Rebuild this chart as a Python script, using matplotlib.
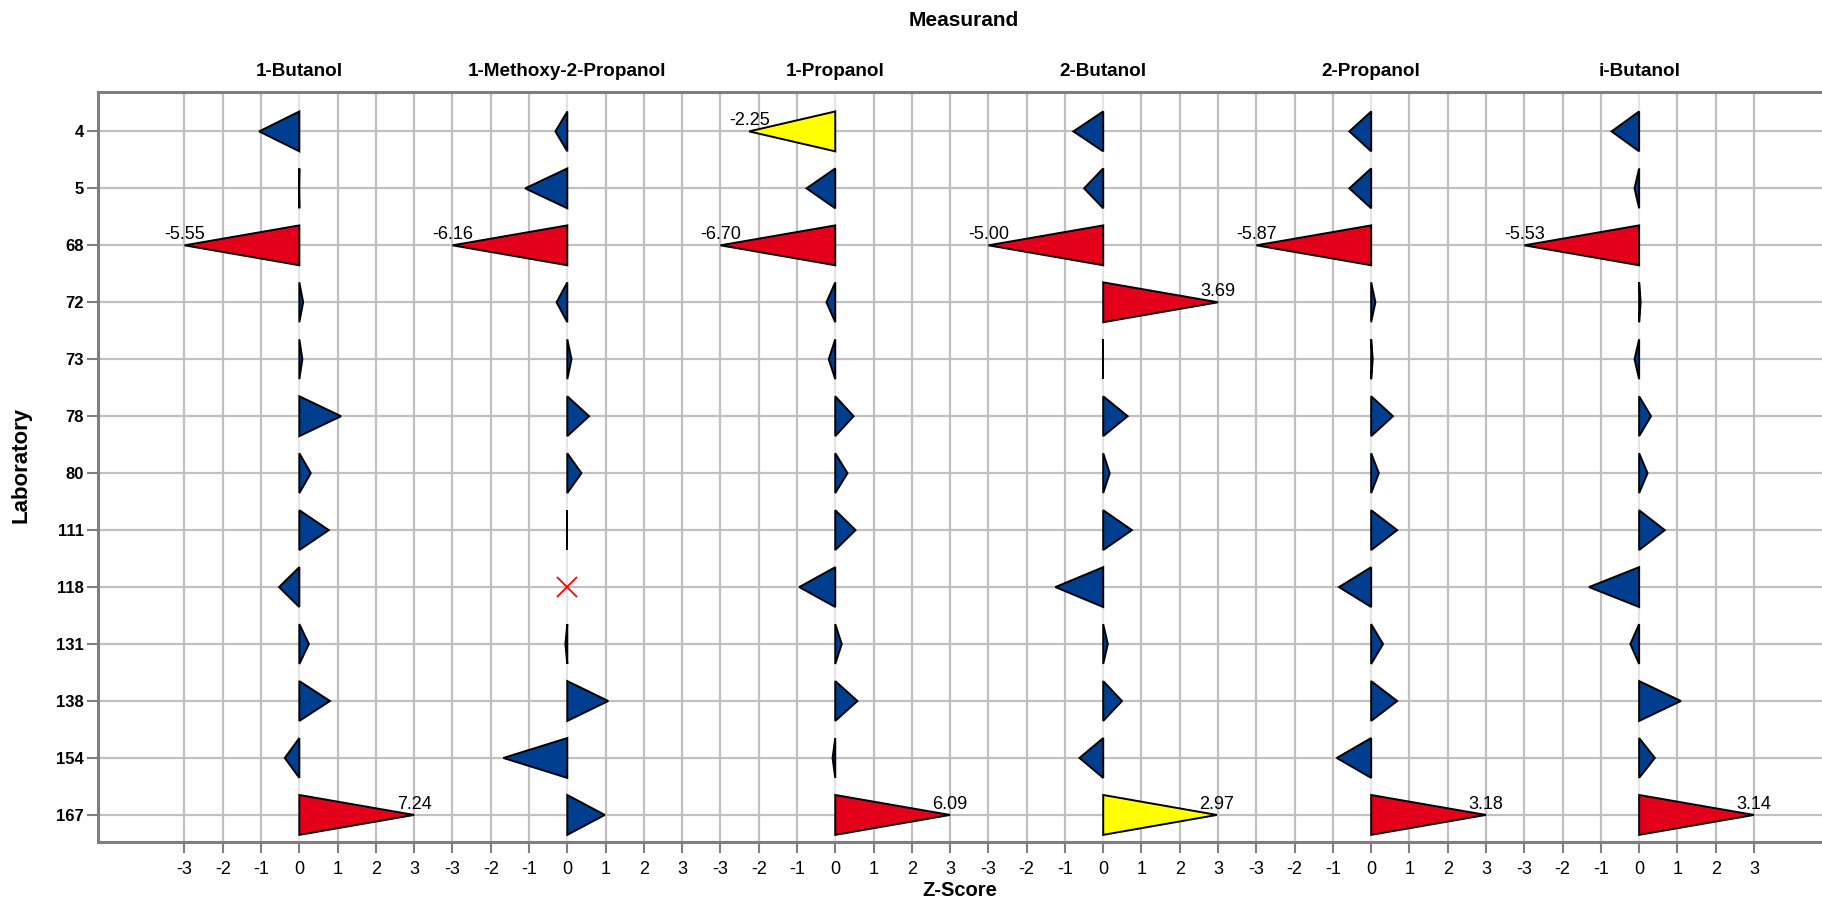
import numpy as np
import matplotlib
matplotlib.use('Agg')
import matplotlib.pyplot as plt
from matplotlib.patches import Polygon
from matplotlib.transforms import blended_transform_factory

plt.rcParams['font.family'] = ['Liberation Sans', 'DejaVu Sans']

# z-scores per laboratory for each measurand (nan = no result)
labs = ['4', '5', '68', '72', '73', '78', '80', '111', '118', '131', '138', '154', '167']
measurands = ['1-Butanol', '1-Methoxy-2-Propanol', '1-Propanol', '2-Butanol', '2-Propanol', 'i-Butanol']

z_1butanol = [-1.05, -0.01, -5.55, 0.10, 0.08, 1.09, 0.30, 0.77, -0.53, 0.25, 0.80, -0.38, 7.24]
z_methoxy = [-0.31, -1.10, -6.16, -0.28, 0.11, 0.57, 0.37, 0.0, np.nan, -0.05, 1.07, -1.67, 0.98]
z_1propanol = [-2.25, -0.75, -6.70, -0.23, -0.17, 0.48, 0.32, 0.53, -0.94, 0.17, 0.58, -0.07, 6.09]
z_2butanol = [-0.78, -0.50, -5.00, 3.69, 0.0, 0.64, 0.17, 0.75, -1.25, 0.12, 0.49, -0.62, 2.97]
z_2propanol = [-0.57, -0.57, -5.87, 0.11, 0.04, 0.57, 0.20, 0.68, -0.84, 0.31, 0.68, -0.90, 3.18]
z_ibutanol = [-0.72, -0.12, -5.53, 0.04, -0.12, 0.31, 0.22, 0.67, -1.31, -0.23, 1.09, 0.41, 3.14]

scores = [z_1butanol, z_methoxy, z_1propanol, z_2butanol, z_2propanol, z_ibutanol]

BLUE = '#003f8f'
YELLOW = '#ffff00'
RED = '#e2001a'
GRID = '#c0c0c0'
SPINE = '#7f7f7f'

fig = plt.figure(figsize=(18.22, 9.01), dpi=100)
# axes runs a little past the right border of the figure
ax = fig.add_axes([97.6 / 1822, 59.3 / 901, 45.54 * 38.28 / 1822, 750.0 / 901])

step = 7          # x offset between measurand panels
half = 0.35       # half height of each triangle (in rows)
ax.set_xlim(-5.27, 40.27)
ax.set_ylim(12.47, -0.697)

xticks = []
xlabels = []
for i in range(len(measurands)):
    for k in range(-3, 4):
        xticks.append(step * i + k)
        xlabels.append(str(k))
ax.set_xticks(xticks)
ax.set_xticklabels(xlabels)
ax.set_yticks(range(len(labs)))
ax.set_yticklabels(labs, fontweight='bold', fontsize=12)

# grid: zero lines of each panel drawn lighter
for x in xticks:
    col = '#e4e4e4' if x % step == 0 else GRID
    ax.axvline(x, color=col, lw=1.6, zorder=0)
for y in range(len(labs)):
    ax.axhline(y, color=GRID, lw=1.6, zorder=0)

for i, z in enumerate(scores):
    x0 = step * i
    for row, v in enumerate(z):
        if np.isnan(v):
            ax.plot(x0, row, marker='x', color='red', ms=14, mew=1.3, zorder=4)
            continue
        a = abs(v)
        if a >= 3:
            c = RED
        elif a > 2:
            c = YELLOW
        else:
            c = BLUE
        vc = max(-3, min(3, v))
        tri = Polygon([(x0, row - half), (x0 + vc, row), (x0, row + half)],
                      closed=True, facecolor=c, edgecolor='black', lw=1.4, zorder=3)
        ax.add_patch(tri)
        if a > 2:
            ax.annotate('%.2f' % v, (x0 + vc, row), xytext=(0, 1.5), textcoords='offset points',
                        ha='center', va='bottom', fontsize=13, zorder=5)

# panel titles above the axes
trans = blended_transform_factory(ax.transData, fig.transFigure)
for i, name in enumerate(measurands):
    ax.text(step * i, 1 - 71 / 901, name, transform=trans, ha='center', va='center',
            fontsize=13.6, fontweight='bold')

fig.text(964 / 1822, 1 - 20 / 901, 'Measurand', ha='center', va='center',
         fontsize=15, fontweight='bold')
fig.text(960 / 1822, 1 - 890 / 901, 'Z-Score', ha='center', va='center',
         fontsize=14.5, fontweight='bold')
fig.text(21 / 1822, 1 - 465 / 901, 'Laboratory', ha='center', va='center',
         rotation=90, fontsize=16, fontweight='bold')

for side in ['left', 'bottom', 'top']:
    ax.spines[side].set_color(SPINE)
    ax.spines[side].set_linewidth(2.2)
ax.spines['right'].set_visible(False)
ax.tick_params(axis='both', colors=SPINE, length=8, width=1.5)
ax.tick_params(axis='x', labelcolor='black', labelsize=13, pad=6)
ax.tick_params(axis='y', labelcolor='black', pad=2)

fig.savefig('out.png', dpi=100)
